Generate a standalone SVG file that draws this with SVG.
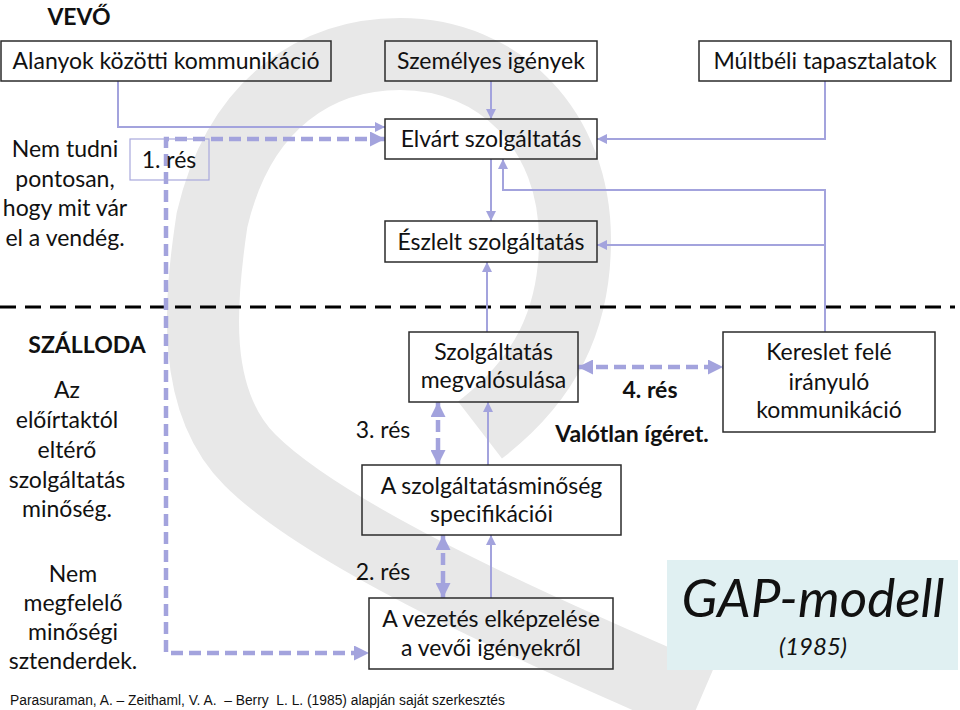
<svg xmlns="http://www.w3.org/2000/svg" width="960" height="710" viewBox="0 0 960 710">
<style>
.t{font-family:Lato,"Open Sans","Liberation Sans",sans-serif;font-size:23px;fill:#111;text-anchor:middle}
.b{font-weight:bold}
.box{fill:none;stroke:#2b2b2b;stroke-width:1.5}
.ln{fill:none;stroke:#a3a3dd;stroke-width:2}
.dl{fill:none;stroke:#a3a3dd;stroke-width:4.5;stroke-dasharray:12 6}
.sep{stroke:#000;stroke-width:3;stroke-dasharray:16 9}
.wm{fill:none;stroke:#e8e8e8;stroke-width:72}
</style>
<defs>
<marker id="a" viewBox="0 0 10 10" refX="10" refY="5" markerWidth="10" markerHeight="10" markerUnits="userSpaceOnUse" orient="auto-start-reverse"><path d="M0,0L10,5L0,10z" fill="#a3a3dd"/></marker>
<marker id="A" viewBox="0 0 10 10" refX="10" refY="5" markerWidth="15" markerHeight="15" markerUnits="userSpaceOnUse" orient="auto-start-reverse"><path d="M0,0L10,5L0,10z" fill="#a3a3dd"/></marker>
</defs>
<rect width="960" height="710" fill="#fff"/>
<g id="watermark">
<path class="wm" d="M700,700 C560,640 330,540 250,460 C190,400 200,300 212,220 C240,100 320,54 400,54 C500,54 575,130 575,240 C575,320 545,380 480,430"/>
</g>
<line id="separator" x1="0" y1="307" x2="955" y2="307" class="sep"/>
<g id="connectors">
<path class="ln" d="M118,81V127H385" marker-end="url(#a)"/>
<path class="ln" d="M491,81V119" marker-end="url(#a)"/>
<path class="ln" d="M825,81V139H597" marker-end="url(#a)"/>
<path class="ln" d="M491,159V221" marker-end="url(#a)"/>
<path class="ln" d="M825,332V190H503V159" marker-end="url(#a)"/>
<path class="ln" d="M825,245H597" marker-end="url(#a)"/>
<path class="ln" d="M487,332V262" marker-end="url(#a)"/>
<path class="ln" d="M488,465V402" marker-end="url(#a)"/>
<path class="ln" d="M491,598V535" marker-end="url(#a)"/>
<path class="dl" d="M385,139H166V653H369" marker-start="url(#A)" marker-end="url(#A)"/>
<path class="dl" d="M438,402V465" marker-start="url(#A)" marker-end="url(#A)"/>
<path class="dl" d="M443,535V598" marker-start="url(#A)" marker-end="url(#A)"/>
<path class="dl" d="M578,367H723" marker-start="url(#A)" marker-end="url(#A)"/>
</g>
<g id="vevo-title"><text class="t b" x="79" y="25">VEVŐ</text></g>
<g id="alanyok"><rect class="box" x="1" y="41" width="330" height="40"/><text class="t" x="166" y="69">Alanyok közötti kommunikáció</text></g>
<g id="szemelyes"><rect class="box" x="385" y="41" width="212" height="40"/><text class="t" x="491" y="69">Személyes igények</text></g>
<g id="multbeli"><rect class="box" x="699" y="41" width="252" height="40"/><text class="t" x="825" y="69">Múltbéli tapasztalatok</text></g>
<g id="elvart"><rect class="box" x="385" y="119" width="212" height="40"/><text class="t" x="491" y="147">Elvárt szolgáltatás</text></g>
<g id="eszlelt"><rect class="box" x="385" y="221" width="212" height="41"/><text class="t" x="491" y="250">Észlelt szolgáltatás</text></g>
<g id="res1"><rect x="130" y="139" width="79" height="41" fill="none" stroke="#a9a9dd" stroke-width="1.2"/><text class="t" x="169" y="168">1. rés</text></g>
<g id="nem-tudni"><text class="t" x="65" y="157">Nem tudni</text><text class="t" x="65" y="186.5">pontosan,</text><text class="t" x="65" y="216">hogy mit vár</text><text class="t" x="65" y="245.5">el a vendég.</text></g>
<g id="szalloda-title"><text class="t b" x="87" y="353">SZÁLLODA</text></g>
<g id="az-eloirtaktol"><text class="t" x="67" y="398">Az</text><text class="t" x="67" y="428">előírtaktól</text><text class="t" x="67" y="458">eltérő</text><text class="t" x="67" y="488">szolgáltatás</text><text class="t" x="67" y="517">minőség.</text></g>
<g id="nem-megfelelo"><text class="t" x="73" y="582">Nem</text><text class="t" x="73" y="611">megfelelő</text><text class="t" x="73" y="640">minőségi</text><text class="t" x="73" y="669">sztenderdek.</text></g>
<g id="megvalosulasa"><rect class="box" x="409" y="332" width="169" height="70"/><text class="t" x="493.5" y="360">Szolgáltatás</text><text class="t" x="493.5" y="388">megvalósulása</text></g>
<g id="res3"><text class="t" x="383" y="438">3. rés</text></g>
<g id="specifikacio"><rect class="box" x="362" y="465" width="259" height="70"/><text class="t" x="491.5" y="494">A szolgáltatásminőség</text><text class="t" x="491.5" y="522">specifikációi</text></g>
<g id="res2"><text class="t" x="383" y="580">2. rés</text></g>
<g id="vezetes"><rect class="box" x="369" y="598" width="244" height="71"/><text class="t" x="491" y="627">A vezetés elképzelése</text><text class="t" x="491" y="656">a vevői igényekről</text></g>
<g id="res4"><text class="t b" x="650" y="398">4. rés</text><text class="t b" x="632" y="442">Valótlan ígéret.</text></g>
<g id="kereslet"><rect class="box" x="723" y="332" width="212" height="100"/><text class="t" x="829" y="360">Kereslet felé</text><text class="t" x="829" y="390">irányuló</text><text class="t" x="829" y="418">kommunikáció</text></g>
<g id="gap-modell"><rect x="667" y="560" width="291" height="110" fill="#e0f0f2"/><text class="t" x="813" y="617" style="font-size:53px;font-style:italic">GAP-modell</text><text class="t" x="813" y="655" style="font-size:24px;font-style:italic">(1985)</text></g>
<g id="source"><text x="10" y="705" style="font-family:'Liberation Sans',Arial,sans-serif;font-size:13.8px;fill:#111;white-space:pre" xml:space="preserve">Parasuraman, A. – Zeithaml, V. A.  – Berry  L. L. (1985) alapján saját szerkesztés</text></g>
</svg>
